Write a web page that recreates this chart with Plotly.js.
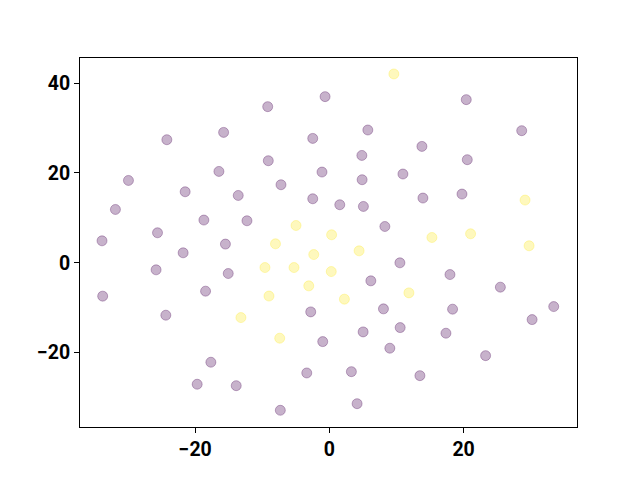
<!DOCTYPE html>
<html>
<head>
<meta charset="utf-8">
<script src="https://cdn.plot.ly/plotly-3.0.1.min.js"></script>
<style>html,body{margin:0;padding:0;background:#fff;}#chart{width:640px;height:480px;}</style>
</head>
<body>
<div id="chart"></div>
<script>
// Class 0 (purple) points
const purpleX = [-33.88,-33.78,-31.88,-29.94,-25.61,-25.82,-24.22,-24.37,-21.49,-21.79,-18.70,-18.45,-17.66,-19.70,-16.46,-15.76,-15.49,-15.07,-13.58,-13.88,-12.28,-9.19,-9.10,-7.21,-7.31,-2.78,-2.48,-2.48,-3.37,-0.99,-1.10,-0.64,1.55,3.28,4.13,4.84,4.88,5.07,5.03,5.73,6.18,8.27,8.06,9.01,10.55,10.51,10.96,13.79,13.94,13.49,17.37,17.97,18.36,19.76,20.40,20.55,23.28,25.48,28.66,30.21,33.43];
const purpleY = [4.90,-7.42,11.88,18.34,6.69,-1.56,27.41,-11.66,15.82,2.23,9.52,-6.31,-22.13,-27.03,20.35,29.04,4.17,-2.38,15.0,-27.35,9.36,34.77,22.73,17.38,-32.83,-10.92,27.70,14.26,-24.52,-17.54,20.21,37.0,12.93,-24.23,-31.36,23.91,18.50,12.55,-15.38,29.57,-4.01,8.09,-10.25,-19.01,-14.42,0.0,19.77,25.92,14.42,-25.12,-15.67,-2.61,-10.32,15.31,36.33,22.96,-20.66,-5.42,29.42,-12.64,-9.74];
// Class 1 (yellow) points
const yellowX = [9.61,-4.97,-8.03,0.33,-9.60,-5.27,-2.33,0.28,-9.0,-3.07,-13.18,-7.40,2.24,4.43,11.85,15.28,21.04,29.16,29.76];
const yellowY = [42.05,8.31,4.23,6.24,-1.05,-1.05,1.85,-1.94,-7.40,-5.13,-12.19,-16.78,-8.09,2.67,-6.69,5.64,6.46,13.97,3.79];

const xTicks = [-20, 0, 20];
const xTickText = ['\u221220', '0', '20'];
const yTicks = [-20, 0, 20, 40];
const yTickText = ['\u221220', '0', '20', '40'];

const mk = (rgb) => ({
  size: 10,
  color: 'rgba(' + rgb + ',0.3)',
  line: {color: 'rgba(' + rgb + ',0.3)', width: 1}
});

const traces = [
  {x: purpleX, y: purpleY, type: 'scatter', mode: 'markers', marker: mk('68,1,84'), hoverinfo: 'none'},
  {x: yellowX, y: yellowY, type: 'scatter', mode: 'markers', marker: mk('253,231,37'), hoverinfo: 'none'}
];

const axisCommon = {
  showgrid: false, zeroline: false, showline: true, mirror: true,
  linecolor: '#000', linewidth: 1, ticks: 'outside', ticklen: 5, tickwidth: 1, tickcolor: '#000',
  tickfont: {family: 'Roboto', size: 19.5, color: '#000', weight: 'bold'},
  tickmode: 'array'
};

const layout = {
  width: 640, height: 480,
  margin: {l: 80.3, r: 63.3, t: 58.3, b: 53, pad: 0},
  paper_bgcolor: '#fff', plot_bgcolor: '#fff',
  showlegend: false,
  xaxis: Object.assign({}, axisCommon, {range: [-37.16, 36.9], tickvals: xTicks, ticktext: xTickText}),
  yaxis: Object.assign({}, axisCommon, {range: [-36.55, 45.6], tickvals: yTicks, ticktext: yTickText})
};

Plotly.newPlot('chart', traces, layout, {staticPlot: true, displayModeBar: false});
</script>
</body>
</html>
